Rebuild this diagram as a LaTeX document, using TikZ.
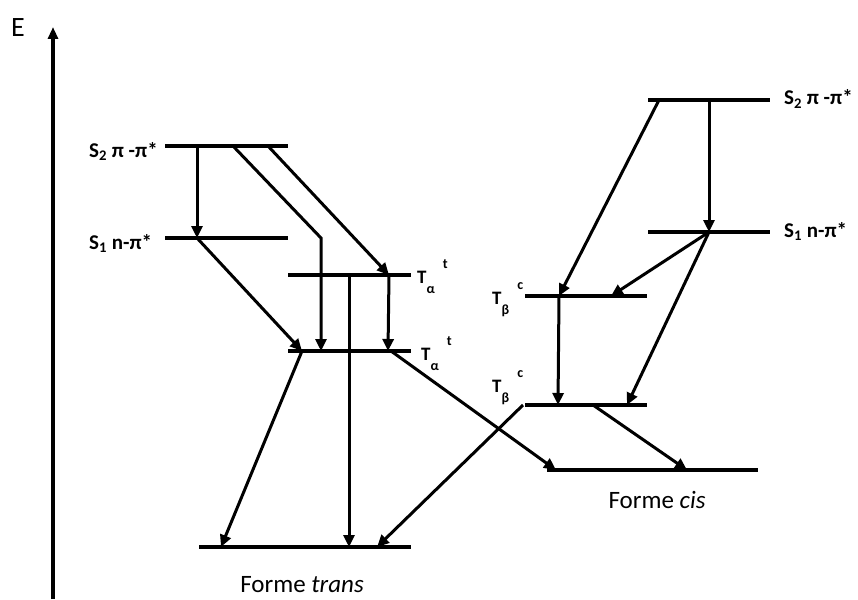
\documentclass[tikz,border=0pt]{standalone}
\usepackage{fontspec}
\setmainfont{Carlito}
\usetikzlibrary{arrows.meta}
\newcommand\tlabel[2]{T\raisebox{-10pt}{\fontsize{14}{14}\selectfont #1}\hspace{8pt}\raisebox{15pt}{\fontsize{14}{14}\selectfont #2}}
\begin{document}
\begin{tikzpicture}[x=1pt,y=-1pt,
  lvl/.style={line width=3.3pt},
  arr/.style={line width=3pt,-{Triangle[length=12pt,width=11pt]}},
  slab/.style={font=\fontsize{21}{21}\selectfont\bfseries,inner sep=0pt,anchor=base west},
  tlab/.style={font=\fontsize{19}{19}\selectfont\bfseries,inner sep=0pt,anchor=base west},
  flab/.style={font=\fontsize{25}{25}\selectfont,inner sep=0pt,anchor=base}]
\useasboundingbox (0,0) rectangle (858,599);
% axis
\coordinate (ax0) at (53,599);
\coordinate (ax1) at (53,27);
\draw[line width=3.4pt,-{Triangle[length=12pt,width=10pt]}] (ax0) -- (ax1);
\node[font=\fontsize{28}{28}\selectfont,inner sep=0pt,anchor=base west] (E) at (11,37) {E};
% ---------- trans levels ----------
\draw[lvl] (165,146) coordinate (S2tL) -- (288,146) coordinate (S2tR);
\draw[lvl] (165,238) coordinate (S1tL) -- (288,238) coordinate (S1tR);
\draw[lvl] (288,275) coordinate (TauL) -- (411,275) coordinate (TauR);
\draw[lvl] (288,351) coordinate (TalL) -- (411,351) coordinate (TalR);
\draw[lvl] (199,547) coordinate (GtL) -- (411,547) coordinate (GtR);
% ---------- cis levels ----------
\draw[lvl] (648,100) coordinate (S2cL) -- (770,100) coordinate (S2cR);
\draw[lvl] (648,232) coordinate (S1cL) -- (770,232) coordinate (S1cR);
\draw[lvl] (525,296) coordinate (TbuL) -- (647,296) coordinate (TbuR);
\draw[lvl] (525,405) coordinate (TblL) -- (647,405) coordinate (TblR);
\draw[lvl] (547,470) coordinate (GcL) -- (758,470) coordinate (GcR);
% ---------- labels ----------
\node[slab] (lS2t) at (89,157) {S\textsubscript{2} π -π*};
\node[slab] (lS1t) at (89,249) {S\textsubscript{1} n-π*};
\node[slab] (lS2c) at (784,105) {S\textsubscript{2} π -π*};
\node[slab] (lS1c) at (784,237) {S\textsubscript{1} n-π*};
\node[tlab] (lTau) at (417,283) {\tlabel{α}{t}};
\node[tlab] (lTal) at (421,360) {\tlabel{α}{t}};
\node[tlab] (lTbu) at (492,304) {\tlabel{β}{c}};
\node[tlab] (lTbl) at (492,392) {\tlabel{β}{c}};
\node[flab] (ft) at (302,592) {Forme \textit{trans}};
\node[flab] (fc) at (657,508) {Forme \textit{cis}};
% ---------- attachment points ----------
\coordinate (p1) at (197,146);
\coordinate (p1b) at (197,238);
\coordinate (p2) at (233,146);
\coordinate (p2k) at (321,238);
\coordinate (p2b) at (321,351);
\coordinate (p3) at (268,146);
\coordinate (p3b) at (389,275);
\coordinate (p4b) at (302,351);
\coordinate (p5b) at (388,351);
\coordinate (p6) at (349,275);
\coordinate (p6b) at (349,547);
\coordinate (p7b) at (221,547);
\coordinate (p8) at (391,351);
\coordinate (p8b) at (556,470);
\coordinate (p9) at (523,405);
\coordinate (p9b) at (377,547);
\coordinate (q1) at (659,100);
\coordinate (q1b) at (559,296);
\coordinate (q2) at (709,100);
\coordinate (q2b) at (709,232);
\coordinate (q3b) at (611,296);
\coordinate (q4b) at (627,405);
\coordinate (q5b) at (558,405);
\coordinate (q6) at (593,405);
\coordinate (q6b) at (687,470);
% ---------- trans arrows ----------
\draw[arr] (p1) -- (p1b);
\draw[arr] (p2) -- (p2k) -- (p2b);
\draw[arr] (p3) -- (p3b);
\draw[arr] (p1b) -- (p4b);
\draw[arr] (p3b) -- (p5b);
\draw[arr] (p6) -- (p6b);
\draw[arr] (p4b) -- (p7b);
\draw[arr] (p8) -- (p8b);
\draw[arr] (p9) -- (p9b);
% ---------- cis arrows ----------
\draw[arr] (q1) -- (q1b);
\draw[arr] (q2) -- (q2b);
\draw[arr] (q2b) -- (q3b);
\draw[arr] (q2b) -- (q4b);
\draw[arr] (q1b) -- (q5b);
\draw[arr] (q6) -- (q6b);
\end{tikzpicture}
\end{document}
